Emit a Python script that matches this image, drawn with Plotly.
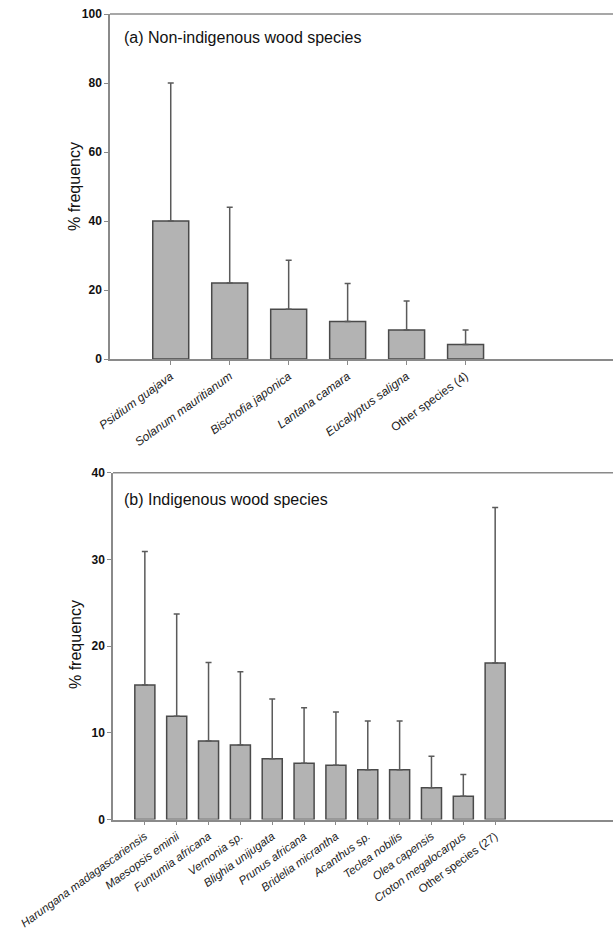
import plotly.graph_objects as go

# ---- data ----
nonindig_species = ["Psidium guajava", "Solanum mauritianum", "Bischofia japonica",
                    "Lantana camara", "Eucalyptus saligna", "Other species (4)"]
nonindig_freq = [40.0, 22.0, 14.4, 10.9, 8.4, 4.2]
nonindig_err = [40.0, 22.0, 14.2, 11.0, 8.4, 4.2]

indig_species = ["Harungana madagascariensis", "Maesopsis eminii", "Funtumia africana",
                 "Vernonia sp.", "Blighia unijugata", "Prunus africana", "Bridelia micrantha",
                 "Acanthus sp.", "Teclea nobilis", "Olea capensis", "Croton megalocarpus",
                 "Other species (27)"]
indig_freq = [15.5, 11.9, 9.05, 8.6, 7.0, 6.5, 6.25, 5.75, 5.75, 3.67, 2.68, 18.05]
indig_err = [15.4, 11.8, 9.05, 8.45, 6.9, 6.4, 6.15, 5.6, 5.6, 3.63, 2.52, 17.95]

top_yticks = [0, 20, 40, 60, 80, 100]
bot_yticks = [0, 10, 20, 30, 40]


def fmt(name):
    return name if name.startswith("Other") else "<i>" + name + "</i>"


# body margin is removed by post_script, so the figure sits at (0, 0)
W, H = 613, 930


def px(x):
    return x / W


def py(y):
    return 1 - y / H


FONT = "Liberation Sans, Arial, sans-serif"
AX = "#8a8a8a"
BAR_FILL = "#b3b3b3"
BAR_LINE = "#4a4a4a"
ERR = "#5a5a5a"

fig = go.Figure()

fig.add_trace(go.Bar(
    x=nonindig_species, y=nonindig_freq, xaxis="x", yaxis="y",
    marker=dict(color=BAR_FILL, line=dict(color=BAR_LINE, width=1.5)),
    error_y=dict(type="data", array=nonindig_err, arrayminus=[0] * len(nonindig_err),
                 symmetric=False, color=ERR, thickness=1.5, width=3),
    width=0.61, showlegend=False, hoverinfo="skip"))

fig.add_trace(go.Bar(
    x=indig_species, y=indig_freq, xaxis="x2", yaxis="y2",
    marker=dict(color=BAR_FILL, line=dict(color=BAR_LINE, width=1.5)),
    error_y=dict(type="data", array=indig_err, arrayminus=[0] * len(indig_err),
                 symmetric=False, color=ERR, thickness=1.5, width=3),
    width=0.63, showlegend=False, hoverinfo="skip"))

common_x = dict(showline=True, linecolor=AX, linewidth=1.5, ticks="outside",
                ticklen=4, tickcolor=AX, tickwidth=1.2, tickangle=-36,
                ticklabeloverflow="allow",
                showgrid=False, zeroline=False, automargin=False)
common_y = dict(showline=True, linecolor=AX, linewidth=1.5, ticks="outside",
                ticklen=4, tickcolor=AX, tickwidth=1.2,
                tickfont=dict(family=FONT, size=12, color="#111", weight="bold"),
                ticklabeloverflow="allow",
                showgrid=False, zeroline=False, automargin=False, mirror=False)

fig.update_layout(
    width=W, height=H,
    margin=dict(l=0, r=0, t=0, b=0),
    paper_bgcolor="white", plot_bgcolor="white",
    bargap=0.4,
    xaxis=dict(domain=[px(110), 1.0], anchor="y", range=[-1.03, 7.5],
               tickvals=nonindig_species, ticktext=[fmt(s) for s in nonindig_species],
               tickfont=dict(family=FONT, size=12, color="#222"),
               **common_x),
    yaxis=dict(domain=[py(359), py(14)], anchor="x", range=[0, 100],
               tickvals=top_yticks, **common_y),
    xaxis2=dict(domain=[px(113), 1.0], anchor="y2", range=[-1.0, 14.7],
                tickvals=indig_species, ticktext=[fmt(s) for s in indig_species],
                tickfont=dict(family=FONT, size=11.5, color="#222"),
                **common_x),
    yaxis2=dict(domain=[py(819.5), py(472.7)], anchor="x2", range=[0, 40],
                tickvals=bot_yticks, **common_y),
)

# top borders of the panels
for xref, yref in [("x domain", "y domain"), ("x2 domain", "y2 domain")]:
    fig.add_shape(type="line", xref=xref, yref=yref, x0=0, x1=1, y0=1, y1=1,
                  line=dict(color=AX, width=1.5))

# panel titles
fig.add_annotation(text="(a) Non-indigenous wood species", xref="paper", yref="paper",
                   x=px(122), y=py(37), xanchor="left", yanchor="middle",
                   showarrow=False, font=dict(family=FONT, size=16, color="#111"))
fig.add_annotation(text="(b) Indigenous wood species", xref="paper", yref="paper",
                   x=px(122), y=py(500), xanchor="left", yanchor="middle",
                   showarrow=False, font=dict(family=FONT, size=16, color="#111"))

# y-axis titles
for yc in (187, 645):
    fig.add_annotation(text="% frequency", xref="paper", yref="paper",
                       x=px(75), y=py(yc), xanchor="center", yanchor="middle",
                       textangle=-90, showarrow=False,
                       font=dict(family=FONT, size=16, color="#111"))

fig.write_html(
    "out.html",
    config={"displayModeBar": False},
    post_script="document.body.style.margin='0';document.body.style.overflow='hidden';",
)
